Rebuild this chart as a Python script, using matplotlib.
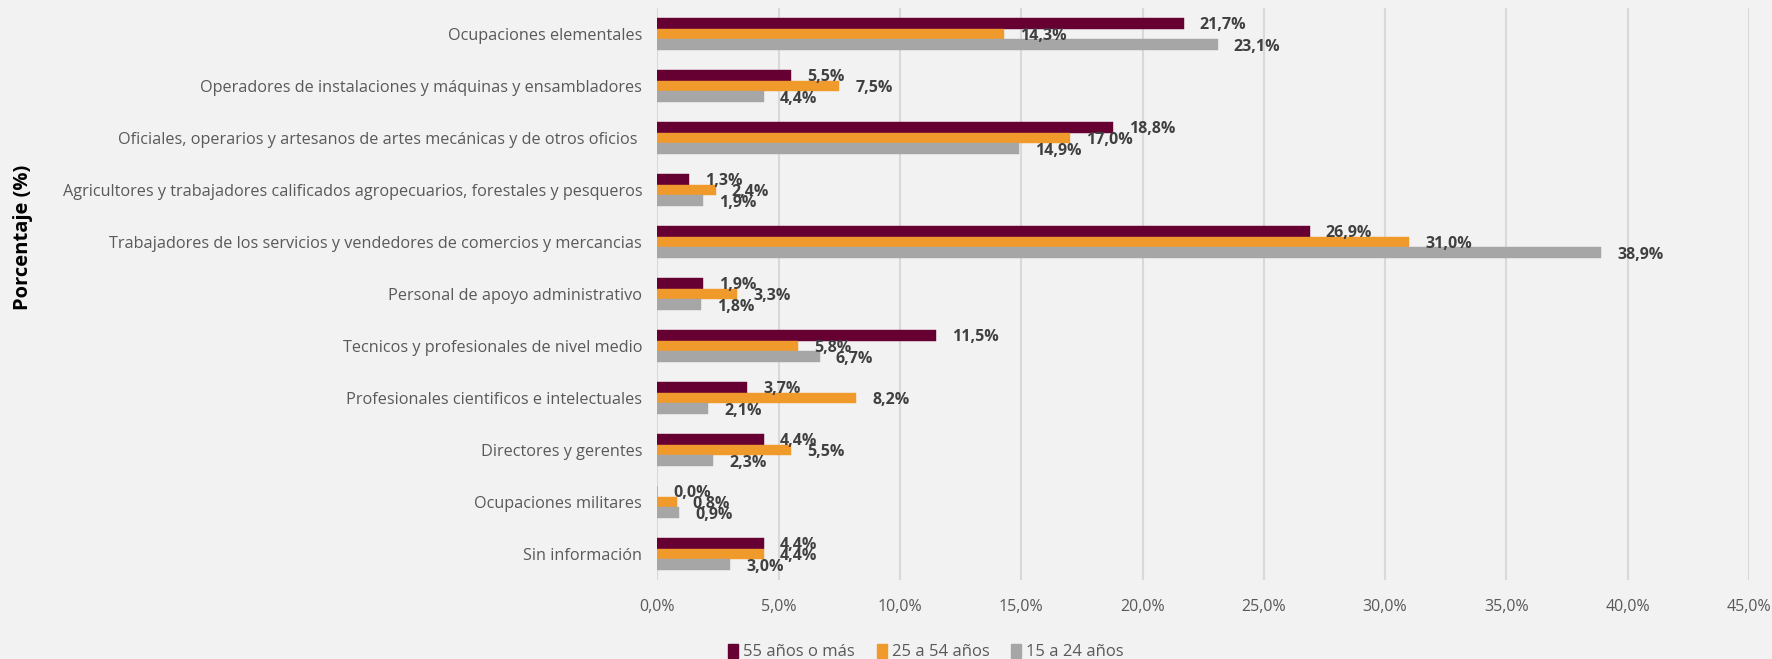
import matplotlib
matplotlib.use("Agg")
import matplotlib.pyplot as plt
import numpy as np
from matplotlib.patches import Patch

categories = [
    "Ocupaciones elementales",
    "Operadores de instalaciones y máquinas y ensambladores",
    "Oficiales, operarios y artesanos de artes mecánicas y de otros oficios ",
    "Agricultores y trabajadores calificados agropecuarios, forestales y pesqueros",
    "Trabajadores de los servicios y vendedores de comercios y mercancias",
    "Personal de apoyo administrativo",
    "Tecnicos y profesionales de nivel medio",
    "Profesionales cientificos e intelectuales",
    "Directores y gerentes",
    "Ocupaciones militares",
    "Sin información",
]
series_names = ["55 años o más", "25 a 54 años", "15 a 24 años"]
s55 = [21.7, 5.5, 18.8, 1.3, 26.9, 1.9, 11.5, 3.7, 4.4, 0.0, 4.4]
s25 = [14.3, 7.5, 17.0, 2.4, 31.0, 3.3, 5.8, 8.2, 5.5, 0.8, 4.4]
s15 = [23.1, 4.4, 14.9, 1.9, 38.9, 1.8, 6.7, 2.1, 2.3, 0.9, 3.0]
xticks = [0, 5, 10, 15, 20, 25, 30, 35, 40, 45]
xtick_labels = ["0,0%", "5,0%", "10,0%", "15,0%", "20,0%", "25,0%", "30,0%", "35,0%", "40,0%", "45,0%"]

colors = ["#660033", "#EF9A2B", "#A6A6A6"]
bg = "#F2F2F2"
FONT = ["Open Sans", "DejaVu Sans"]
plt.rcParams["font.family"] = FONT

fig = plt.figure(figsize=(17.72, 6.59), dpi=100, facecolor=bg)
ax = fig.add_axes([0.3710, 0.11988, 0.6160, 0.86798], facecolor=bg)

y = np.arange(len(categories))
h = 0.2115
offsets = [-h, 0, h]
for vals, off, col in zip([s55, s25, s15], offsets, colors):
    ax.barh(y + off, vals, height=h, color=col, edgecolor=col, linewidth=0.3, zorder=2)

for vals, off in zip([s55, s25, s15], offsets):
    for yi, v in zip(y, vals):
        ax.annotate(f"{v:.1f}%".replace(".", ","), xy=(v, yi + off),
                    xytext=(11.5, -1.2), textcoords="offset points",
                    ha="left", va="center", fontsize=11.5, fontweight="bold",
                    color="#404040", zorder=3)

ax.set_xlim(0, 45)
ax.set_ylim(len(categories) - 0.5, -0.5)
ax.set_xticks(xticks)
ax.set_xticklabels(xtick_labels)
ax.set_yticks(y)
ax.set_yticklabels(categories)
ax.tick_params(axis="x", length=0, pad=14, labelsize=11.5, labelcolor="#595959")
ax.tick_params(axis="y", length=0, pad=11, labelsize=11.7, labelcolor="#595959")
ax.grid(axis="x", color="#D9D9D9", linewidth=1.5, zorder=0)
ax.set_axisbelow(True)
for s in ax.spines.values():
    s.set_visible(False)

fig.text(23.5 / 1772, 1 - 237 / 659, "Porcentaje (%)", rotation=90,
         ha="center", va="center", fontsize=14.5, fontweight="bold", color="black")

handles = [Patch(facecolor=c, edgecolor=c) for c in colors]
fig.legend(handles, series_names, loc="center", bbox_to_anchor=(926 / 1772, 1 - 652 / 659),
           ncol=3, frameon=False, fontsize=12, handlelength=0.6, handleheight=0.9,
           handletextpad=0.3, columnspacing=1.3, labelcolor="#595959")

fig.savefig("out.png", dpi=100, facecolor=bg)
